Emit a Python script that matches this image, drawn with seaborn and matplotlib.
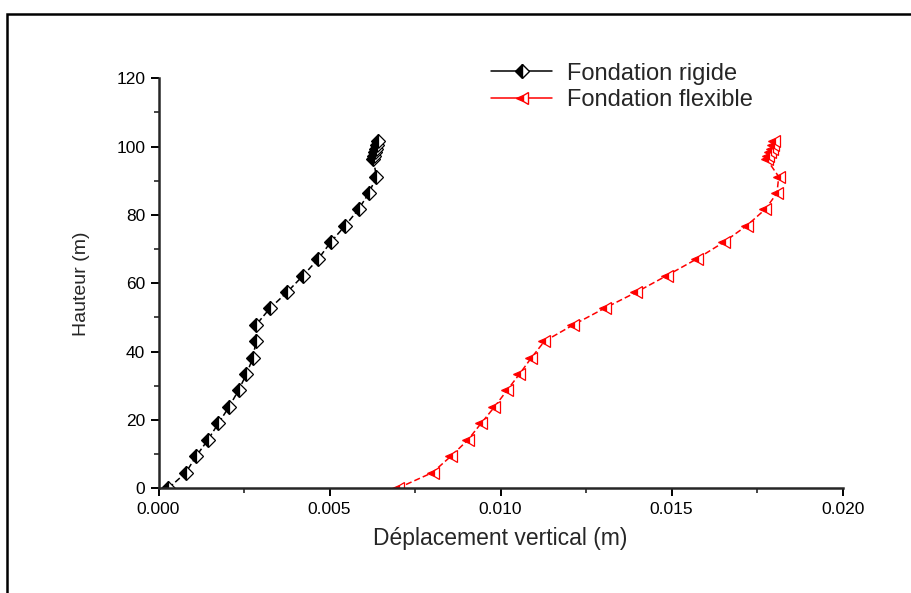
import pandas as pd
import numpy as np
import matplotlib
matplotlib.use('Agg')
import matplotlib.pyplot as plt
from matplotlib.lines import Line2D
from matplotlib.patches import Rectangle
from matplotlib.ticker import MultipleLocator
import seaborn as sns

# heights (m)
hauteur = [0, 4.6, 9.4, 14.1, 19.0, 23.8, 28.7, 33.4, 38.2, 43.0, 47.8,
           52.7, 57.4, 62.2, 67.1, 72.0, 76.9, 81.7, 86.4, 91.2, 96.3,
           97.3, 98.3, 99.4, 100.5, 101.5]

# vertical displacement (m)
depl_rigide = [0.00029, 0.00080, 0.00110, 0.00144, 0.00175, 0.00206, 0.00234,
               0.00257, 0.00276, 0.00285, 0.00285, 0.00326, 0.00376, 0.00422,
               0.00467, 0.00503, 0.00546, 0.00585, 0.00615, 0.00637, 0.00628,
               0.00631, 0.00634, 0.00637, 0.00639, 0.00641]
depl_flexible = [0.00699, 0.00801, 0.00855, 0.00904, 0.00943, 0.00982, 0.01019,
                 0.01055, 0.01090, 0.01128, 0.01212, 0.01304, 0.01397, 0.01485,
                 0.01573, 0.01652, 0.01720, 0.01774, 0.01808, 0.01813, 0.01778,
                 0.01783, 0.01788, 0.01792, 0.01796, 0.01800]

df_rigide = pd.DataFrame({'depl': depl_rigide, 'h': hauteur})
df_flex = pd.DataFrame({'depl': depl_flexible, 'h': hauteur})

sns.set_style('ticks')
plt.rcParams['font.family'] = ['Liberation Sans', 'DejaVu Sans']

fig = plt.figure(figsize=(9.11, 5.93), dpi=100)
ax = fig.add_axes([0.174, 0.1766, 0.751, 0.6914])

# figure frame
fig.patches.append(Rectangle((6.5 / 911, -0.05), 1.1, (593 - 13.5) / 593 + 0.05,
                             transform=fig.transFigure, fill=False,
                             edgecolor='black', linewidth=1.8, zorder=0))

sns.lineplot(data=df_rigide, x='depl', y='h', sort=False, estimator=None,
             color='black', linewidth=1.1, ax=ax)
sns.lineplot(data=df_flex, x='depl', y='h', sort=False, estimator=None,
             color='red', linewidth=1.1, ax=ax)

l_rig, l_flex = ax.get_lines()[:2]
l_rig.set(linestyle=(0, (4, 2)), marker='D', markersize=7, fillstyle='left',
          markerfacecolor='black', markerfacecoloralt='white',
          markeredgecolor='black', markeredgewidth=0.9)
l_flex.set(linestyle=(0, (4, 2)), marker='<', markersize=8, fillstyle='left',
           markerfacecolor='red', markerfacecoloralt='white',
           markeredgecolor='red', markeredgewidth=0.9)

ax.set_xlim(0, 0.020)
ax.set_ylim(0, 120)
ax.xaxis.set_major_locator(MultipleLocator(0.005))
ax.xaxis.set_minor_locator(MultipleLocator(0.0025))
ax.yaxis.set_major_locator(MultipleLocator(20))
ax.yaxis.set_minor_locator(MultipleLocator(10))
ax.xaxis.set_major_formatter(matplotlib.ticker.FormatStrFormatter('%.3f'))

sns.despine(ax=ax)
for s in ['left', 'bottom']:
    ax.spines[s].set_linewidth(1.8)
ax.tick_params(which='major', direction='out', length=6, width=1.4,
               labelsize=12.5, colors='black')
ax.tick_params(axis='x', which='major', pad=4)
ax.tick_params(which='minor', direction='out', length=3.5, width=1.2)

ax.set_xlabel('Déplacement vertical (m)', fontsize=16.5, labelpad=7)
ax.set_ylabel('Hauteur (m)', fontsize=14, labelpad=19)

handles = [
    Line2D([], [], color='black', linewidth=1.1, marker='D', markersize=7,
           fillstyle='left', markerfacecolor='black', markerfacecoloralt='white',
           markeredgecolor='black'),
    Line2D([], [], color='red', linewidth=1.1, marker='<', markersize=8,
           fillstyle='left', markerfacecolor='red', markerfacecoloralt='white',
           markeredgecolor='red'),
]
ax.legend(handles, ['Fondation rigide', 'Fondation flexible'], loc='upper left',
          bbox_to_anchor=(0.455, 1.09), frameon=False, fontsize=17,
          handlelength=2.6, handletextpad=0.6, labelspacing=0.2)

fig.savefig('out.png', dpi=100)
